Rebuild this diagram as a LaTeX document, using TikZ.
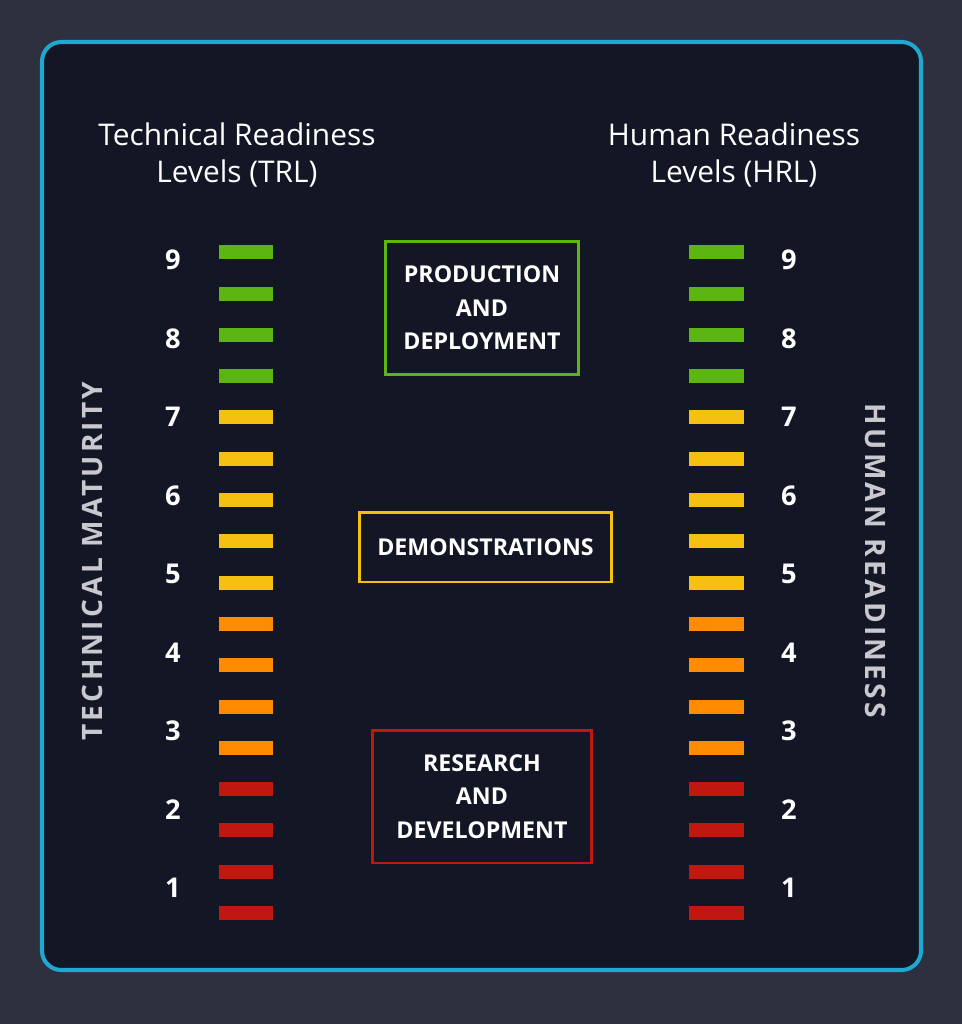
\documentclass[tikz,border=0pt]{standalone}
\usepackage{fontspec}
\setmainfont{Open Sans}
\newfontfamily\spacedfont[LetterSpace=11.5]{Open Sans}
\usetikzlibrary{positioning}
\definecolor{pagebg}{RGB}{46, 48, 64}
\definecolor{panelbg}{RGB}{18, 22, 37}
\definecolor{framecyan}{RGB}{30, 168, 210}
\definecolor{lvlgreen}{RGB}{92, 181, 16}
\definecolor{lvlyellow}{RGB}{245, 192, 15}
\definecolor{lvlorange}{RGB}{255, 140, 0}
\definecolor{lvlred}{RGB}{192, 24, 15}
\definecolor{sidegray}{RGB}{200, 200, 206}

\begin{document}
\begin{tikzpicture}[x=0.02cm, y=-0.02cm,
  bar/.style={rectangle, inner sep=0pt, minimum width=1.1cm, minimum height=0.28cm},
  lvlnum/.style={text=white, font=\fontsize{15.5}{18}\selectfont\bfseries},
  title/.style={text=white, align=center, font=\fontsize{17}{21}\selectfont},
  sidetext/.style={text=sidegray, font=\fontsize{16}{18}\selectfont\spacedfont\bfseries},
  stagebox/.style={draw=#1, line width=1.7pt, inner sep=0pt, text=white, align=center,
    font=\fontsize{13.2}{19}\selectfont\bfseries}]

  % Background and panel
  \fill[pagebg] (0, 0) rectangle (962, 1024);
  \draw[framecyan, line width=2.3pt, fill=panelbg, rounded corners=11pt] (42, 42) rectangle (921, 970);

  % Titles
  \node[title] (trltitle) at (237, 155) {Technical Readiness\\Levels (TRL)};
  \node[title] (hrltitle) at (734, 155) {Human Readiness\\Levels (HRL)};

  % Side labels
  \node[sidetext, rotate=90] (techmat) at (92, 561) {TECHNICAL MATURITY};
  \node[sidetext, rotate=-90] (humready) at (876, 561) {HUMAN READINESS};

  % Level bars
  \foreach \i/\col in {1/lvlred, 2/lvlred, 3/lvlred, 4/lvlred,
                       5/lvlorange, 6/lvlorange, 7/lvlorange, 8/lvlorange,
                       9/lvlyellow, 10/lvlyellow, 11/lvlyellow, 12/lvlyellow, 13/lvlyellow,
                       14/lvlgreen, 15/lvlgreen, 16/lvlgreen, 17/lvlgreen} {
    \node[bar, fill=\col] (trlbar\i) at (246, 913 - 41.3*\i + 41.3) {};
    \node[bar, fill=\col] (hrlbar\i) at (716, 913 - 41.3*\i + 41.3) {};
  }

  % Level numbers
  \foreach \n in {1,...,9} {
    \node[lvlnum] (trlnum\n) at (173, 888 - 78.5*\n + 78.5) {\n};
    \node[lvlnum] (hrlnum\n) at (789, 888 - 78.5*\n + 78.5) {\n};
  }

  % Stages
  \node[stagebox=lvlgreen, minimum width=3.88cm, minimum height=2.68cm] (prod) at (482, 308)
    {PRODUCTION\\AND\\DEPLOYMENT};
  \node[stagebox=lvlyellow, minimum width=5.06cm, minimum height=1.4cm] (demo) at (485.5, 547)
    {DEMONSTRATIONS};
  \node[stagebox=lvlred, minimum width=4.4cm, minimum height=2.66cm] (rnd) at (482, 796.5)
    {RESEARCH\\AND\\DEVELOPMENT};
\end{tikzpicture}
\end{document}
